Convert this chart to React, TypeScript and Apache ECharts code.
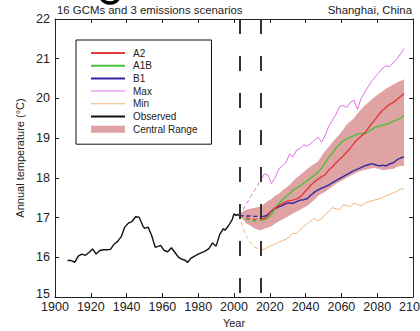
import React, { useEffect, useRef } from "react";
import * as echarts from "echarts";

// ---------- data ----------
const obsYears = [1907, 1909, 1911, 1913, 1915, 1917, 1919, 1921, 1923, 1925, 1927, 1929, 1931, 1933, 1935, 1937, 1939, 1941, 1943, 1945, 1947, 1949, 1950, 1952, 1954, 1956, 1958, 1959, 1961, 1963, 1965, 1967, 1969, 1971, 1973, 1974, 1976, 1978, 1980, 1982, 1984, 1986, 1988, 1990, 1992, 1994, 1995, 1997, 1999, 2000, 2001, 2002, 2003];
const obsTemps = [15.92, 15.92, 15.87, 16.03, 16.08, 16.05, 16.12, 16.21, 16.08, 16.17, 16.19, 16.19, 16.2, 16.33, 16.4, 16.52, 16.76, 16.86, 16.9, 17.02, 17.01, 16.8, 16.73, 16.76, 16.55, 16.25, 16.28, 16.3, 16.17, 16.14, 16.24, 16.12, 16.0, 15.95, 15.92, 15.87, 15.98, 16.03, 16.08, 16.12, 16.16, 16.22, 16.36, 16.28, 16.57, 16.72, 16.68, 16.8, 16.95, 17.1, 17.05, 17.08, 17.05];

const dashYears = [2003, 2005, 2007, 2009, 2011, 2013, 2015];
const a2Dash = [17.05, 17.02, 16.99, 16.96, 16.95, 16.96, 16.97];
const a1bDash = [17.05, 17.0, 16.96, 16.93, 16.92, 16.92, 16.93];
const b1Dash = [17.05, 17.05, 17.04, 17.04, 17.03, 17.03, 17.03];
const maxDash = [17.05, 17.2, 17.35, 17.5, 17.65, 17.8, 17.95];
const minDash = [17.05, 16.75, 16.52, 16.37, 16.27, 16.22, 16.2];

const projYears = [2015, 2017, 2019, 2021, 2023, 2025, 2027, 2029, 2031, 2033, 2035, 2037, 2039, 2041, 2043, 2045, 2047, 2049, 2051, 2053, 2055, 2057, 2059, 2061, 2063, 2065, 2067, 2069, 2071, 2073, 2075, 2077, 2079, 2081, 2083, 2085, 2087, 2089, 2091, 2093, 2095];
const a2 = [16.97, 16.97, 17.05, 17.17, 17.25, 17.3, 17.35, 17.4, 17.42, 17.44, 17.47, 17.52, 17.62, 17.72, 17.82, 17.9, 17.97, 18.03, 18.08, 18.2, 18.28, 18.38, 18.47, 18.55, 18.65, 18.75, 18.87, 18.97, 19.05, 19.12, 19.25, 19.37, 19.48, 19.6, 19.7, 19.78, 19.85, 19.9, 19.97, 20.05, 20.12];
const a1b = [16.93, 16.95, 17.0, 17.08, 17.22, 17.35, 17.45, 17.52, 17.6, 17.69, 17.75, 17.8, 17.87, 17.93, 18.0, 18.07, 18.15, 18.25, 18.38, 18.52, 18.62, 18.75, 18.85, 18.93, 18.98, 19.02, 19.06, 19.1, 19.12, 19.12, 19.16, 19.22, 19.28, 19.3, 19.33, 19.35, 19.38, 19.42, 19.46, 19.5, 19.57];
const b1 = [17.03, 17.03, 17.08, 17.17, 17.22, 17.27, 17.3, 17.35, 17.37, 17.36, 17.4, 17.44, 17.45, 17.48, 17.57, 17.64, 17.7, 17.74, 17.78, 17.82, 17.88, 17.93, 17.98, 18.03, 18.08, 18.13, 18.18, 18.22, 18.26, 18.3, 18.33, 18.36, 18.33, 18.3, 18.32, 18.3, 18.35, 18.38, 18.45, 18.5, 18.53];
const maxT = [17.95, 18.1, 18.07, 17.86, 18.0, 18.22, 18.3, 18.38, 18.6, 18.53, 18.7, 18.74, 18.83, 18.8, 18.87, 18.95, 19.02, 18.9, 19.08, 19.3, 19.45, 19.6, 19.8, 19.82, 19.77, 19.9, 19.96, 19.72, 20.0, 20.15, 20.3, 20.44, 20.55, 20.65, 20.76, 20.82, 20.8, 20.9, 21.0, 21.12, 21.26];
const minT = [16.2, 16.2, 16.26, 16.3, 16.33, 16.38, 16.42, 16.45, 16.52, 16.6, 16.6, 16.7, 16.78, 16.85, 16.92, 16.98, 16.92, 16.98, 17.08, 17.15, 17.25, 17.22, 17.2, 17.32, 17.3, 17.28, 17.36, 17.33, 17.3, 17.36, 17.4, 17.42, 17.45, 17.47, 17.5, 17.55, 17.58, 17.62, 17.66, 17.73, 17.7];

const bandYears = [2003, 2005, 2007, 2009, 2011, 2013, 2015, 2017, 2019, 2021, 2023, 2025, 2027, 2029, 2031, 2033, 2035, 2037, 2039, 2041, 2043, 2045, 2047, 2049, 2051, 2053, 2055, 2057, 2059, 2061, 2063, 2065, 2067, 2069, 2071, 2073, 2075, 2077, 2079, 2081, 2083, 2085, 2087, 2089, 2091, 2093, 2095];
const bandLow = [17.05, 16.95, 16.85, 16.8, 16.74, 16.7, 16.68, 16.72, 16.75, 16.78, 16.85, 16.9, 16.95, 17.0, 17.05, 17.1, 17.15, 17.2, 17.25, 17.3, 17.38, 17.45, 17.55, 17.6, 17.65, 17.72, 17.78, 17.85, 17.9, 17.95, 18.0, 18.05, 18.1, 18.15, 18.18, 18.2, 18.22, 18.24, 18.25, 18.22, 18.2, 18.2, 18.22, 18.22, 18.28, 18.3, 18.3];
const bandHigh = [17.05, 17.15, 17.2, 17.22, 17.24, 17.26, 17.28, 17.35, 17.42, 17.47, 17.55, 17.6, 17.68, 17.75, 17.82, 17.92, 18.0, 18.08, 18.15, 18.22, 18.3, 18.35, 18.42, 18.55, 18.68, 18.78, 18.9, 19.0, 19.1, 19.22, 19.35, 19.42, 19.5, 19.62, 19.72, 19.82, 19.9, 19.98, 20.05, 20.12, 20.18, 20.25, 20.3, 20.35, 20.4, 20.44, 20.48];

const periodMarks = [2003, 2015];

const C = {
  a2: "#e23a3a",
  a1b: "#4cc23c",
  b1: "#3326a6",
  max: "#e070e6",
  min: "#f2b478",
  obs: "#111111",
  band: "#dfa3a3",
};

const pairs = (xs: number[], ys: number[]) => xs.map((x, i) => [x, ys[i]]);
const thickIcon = "path://M0,0H34V2H0Z";
const thinIcon = "path://M0,0H34V1H0Z";

export default function App() {
  const ref = useRef<HTMLDivElement>(null);
  useEffect(() => {
    if (!ref.current) return;
    const chart = echarts.init(ref.current, undefined, { renderer: "svg" });
    const font = "'Liberation Sans', Arial, sans-serif";
    const axisCommon = {
      type: "value" as const,
      axisLine: { show: true, onZero: false, lineStyle: { color: "#222", width: 1 } },
      axisTick: { show: true, inside: true, length: 4, lineStyle: { color: "#222" } },
      splitLine: { show: false },
    };
    const solid = (name: string, ys: number[], color: string, width: number) => ({
      name,
      type: "line",
      data: pairs(projYears, ys),
      symbol: "none",
      lineStyle: { color, width },
      itemStyle: { color },
      z: 3,
    });
    const dashed = (name: string, ys: number[], color: string, width: number) => ({
      name,
      type: "line",
      data: pairs(dashYears, ys),
      symbol: "none",
      lineStyle: { color, width, type: [4, 3] },
      itemStyle: { color },
      z: 3,
    });
    const option = {
      animation: false,
      backgroundColor: "#ffffff",
      textStyle: { fontFamily: font },
      title: [
        {
          text: "16 GCMs and 3 emissions scenarios",
          left: 57,
          top: 4,
          padding: 0,
          textStyle: { fontSize: 11.4, fontWeight: "normal", color: "#222", fontFamily: font },
        },
        {
          text: "Shanghai, China",
          right: 8,
          top: 4,
          padding: 0,
          textStyle: { fontSize: 11.4, fontWeight: "normal", color: "#222", fontFamily: font },
        },
      ],
      grid: { left: 55, right: 7, top: 19, bottom: 34, containLabel: false, outerBoundsMode: "none" },
      xAxis: [
        {
          ...axisCommon,
          min: 1900,
          max: 2100,
          interval: 20,
          name: "Year",
          nameLocation: "middle",
          nameGap: 14,
          nameTextStyle: { fontSize: 11, color: "#222", fontFamily: font },
          axisLabel: {
            fontSize: 12.5,
            color: "#222",
            margin: 3,
            fontFamily: font,
            showMaxLabel: true,
            formatter: (v: number) => String(v),
          },
        },
        {
          ...axisCommon,
          position: "top",
          min: 1900,
          max: 2100,
          interval: 20,
          axisLabel: { show: false },
        },
      ],
      yAxis: [
        {
          ...axisCommon,
          min: 15,
          max: 22,
          interval: 1,
          name: "Annual temperature (°C)",
          nameLocation: "middle",
          nameGap: 27,
          nameTextStyle: { fontSize: 11, color: "#222", fontFamily: font },
          axisLabel: {
            fontSize: 12.5,
            color: "#222",
            margin: 5,
            fontFamily: font,
            formatter: (v: number) => (v === 15 ? "{lo|15}" : String(v)),
            rich: { lo: { fontSize: 12.5, color: "#222", fontFamily: font, padding: [0, 0, 7, 0] } },
          },
        },
        {
          ...axisCommon,
          position: "right",
          min: 15,
          max: 22,
          interval: 1,
          axisLabel: { show: false },
        },
      ],
      legend: {
        data: [
          { name: "A2", icon: thickIcon },
          { name: "A1B", icon: thickIcon },
          { name: "B1", icon: thickIcon },
          { name: "Max", icon: thinIcon },
          { name: "Min", icon: thinIcon },
          { name: "Observed", icon: thickIcon },
          { name: "Central Range", icon: "rect", itemStyle: { color: C.band } },
        ],
        orient: "vertical",
        left: 76,
        top: 40,
        padding: [7, 14, 9, 15],
        borderColor: "#111",
        borderWidth: 1,
        backgroundColor: "#fff",
        itemWidth: 34,
        itemHeight: 7,
        itemGap: 0.7,
        selectedMode: false,
        textStyle: {
          fontSize: 10,
          lineHeight: 12,
          color: "#222",
          fontFamily: font,
          padding: [0, 0, 0, 3],
        },
      },
      graphic: [
        {
          type: "arc",
          shape: { cx: 110, cy: -7, r: 10, startAngle: 0.35, endAngle: Math.PI - 0.35 },
          style: { stroke: "#000", lineWidth: 3.5, fill: "none" },
          silent: true,
        },
      ],
      series: [
        {
          name: "Central Range",
          type: "custom",
          data: bandYears.map((y, i) => [y, bandLow[i], bandHigh[i]]),
          encode: { x: 0, y: [1, 2] },
          itemStyle: { color: C.band },
          z: 1,
          renderItem: (params: any, api: any) => {
            if (params.dataIndex !== 0) return null;
            const upper = bandYears.map((y, i) => api.coord([y, bandHigh[i]]));
            const lower = bandYears.map((y, i) => api.coord([y, bandLow[i]])).reverse();
            return {
              type: "polygon",
              shape: { points: upper.concat(lower) },
              style: { fill: C.band },
            };
          },
        },
        {
          name: "Observed",
          type: "line",
          data: pairs(obsYears, obsTemps),
          symbol: "none",
          lineStyle: { color: C.obs, width: 1.4 },
          itemStyle: { color: C.obs },
          z: 3,
          markLine: {
            silent: true,
            symbol: ["none", "none"],
            label: { show: false },
            lineStyle: { color: "#333", width: 2, type: [15, 22] },
            data: periodMarks.map((yr) => [{ coord: [yr, 22] }, { coord: [yr, 15] }]),
          },
        },
        dashed("A2 early", a2Dash, C.a2, 1.3),
        dashed("A1B early", a1bDash, C.a1b, 1.3),
        dashed("B1 early", b1Dash, C.b1, 1.3),
        dashed("Max early", maxDash, C.max, 1),
        dashed("Min early", minDash, C.min, 1),
        solid("Min", minT, C.min, 1),
        solid("Max", maxT, C.max, 1),
        solid("B1", b1, C.b1, 1.4),
        solid("A1B", a1b, C.a1b, 1.4),
        solid("A2", a2, C.a2, 1.4),
      ],
    };
    chart.setOption(option as any);
    return () => chart.dispose();
  }, []);
  return (
    <div
      ref={ref}
      style={{ position: "fixed", left: 0, top: 0, width: 420, height: 331, background: "#fff" }}
    />
  );
}
